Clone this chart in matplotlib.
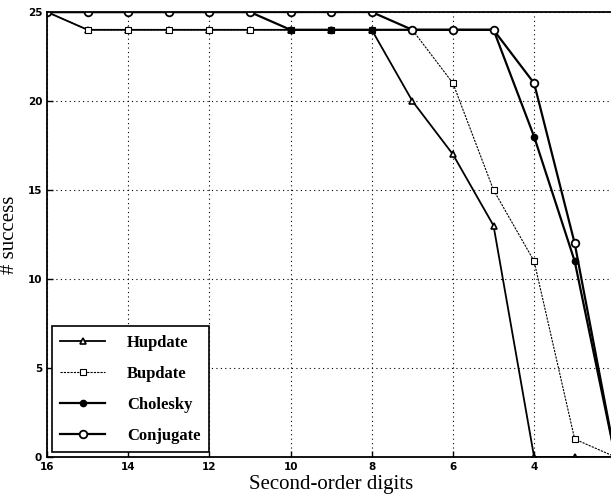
import matplotlib
matplotlib.use('Agg')
import matplotlib.pyplot as plt

digits = [16, 15, 14, 13, 12, 11, 10, 9, 8, 7, 6, 5, 4, 3, 2]
hupdate = [25, 24, 24, 24, 24, 24, 24, 24, 24, 20, 17, 13, 0, 0, 0]
bupdate = [25, 24, 24, 24, 24, 24, 24, 24, 24, 24, 21, 15, 11, 1, 0]
cholesky = [25, 25, 25, 25, 25, 25, 24, 24, 24, 24, 24, 24, 18, 11, 0]
conjugate = [25, 25, 25, 25, 25, 25, 25, 25, 25, 24, 24, 24, 21, 12, 0]

serif = 'Liberation Serif'

fig = plt.figure(figsize=(6.11, 5.01), dpi=100)
ax = fig.add_axes([0.077, 0.088, 0.930, 0.888])

ax.plot(digits, hupdate, color='black', lw=1.3, marker='^', ms=5,
        mfc='white', mec='black', mew=1.2, label='Hupdate')
ax.plot(digits, bupdate, color='black', lw=0.8, ls=(0, (2, 1)), marker='s', ms=4,
        mfc='white', mec='black', mew=0.8, label='Bupdate')
ax.plot(digits, cholesky, color='black', lw=1.6, marker='o', ms=4.5,
        mfc='black', mec='black', label='Cholesky')
ax.plot(digits, conjugate, color='black', lw=1.6, marker='o', ms=5.5,
        mfc='white', mec='black', mew=1.3, label='Conjugate')

ax.set_xlim(16, 2)
ax.set_ylim(0, 25)
ax.set_xticks([16, 14, 12, 10, 8, 6, 4])
ax.set_yticks([0, 5, 10, 15, 20, 25])
ax.grid(True, ls=(0, (1, 3)), color='black', lw=0.8)
ax.tick_params(direction='in', length=4, labelsize=7.5, width=1)
for lab in ax.get_xticklabels() + ax.get_yticklabels():
    lab.set_fontweight('bold')
for s in ax.spines.values():
    s.set_linewidth(1.3)

ax.set_xlabel('Second-order digits', family=serif, fontsize=15, labelpad=2)
ax.set_ylabel('# success', family=serif, fontsize=15, labelpad=6)

leg = ax.legend(loc='lower left', prop={'family': serif, 'size': 12, 'weight': 'bold'},
                fancybox=False, edgecolor='black', framealpha=1, handlelength=2.7,
                borderaxespad=0.3, labelspacing=0.9, handletextpad=1.3,
                borderpad=0.5)
leg.get_frame().set_linewidth(1.2)

fig.savefig('out.png', dpi=100)
